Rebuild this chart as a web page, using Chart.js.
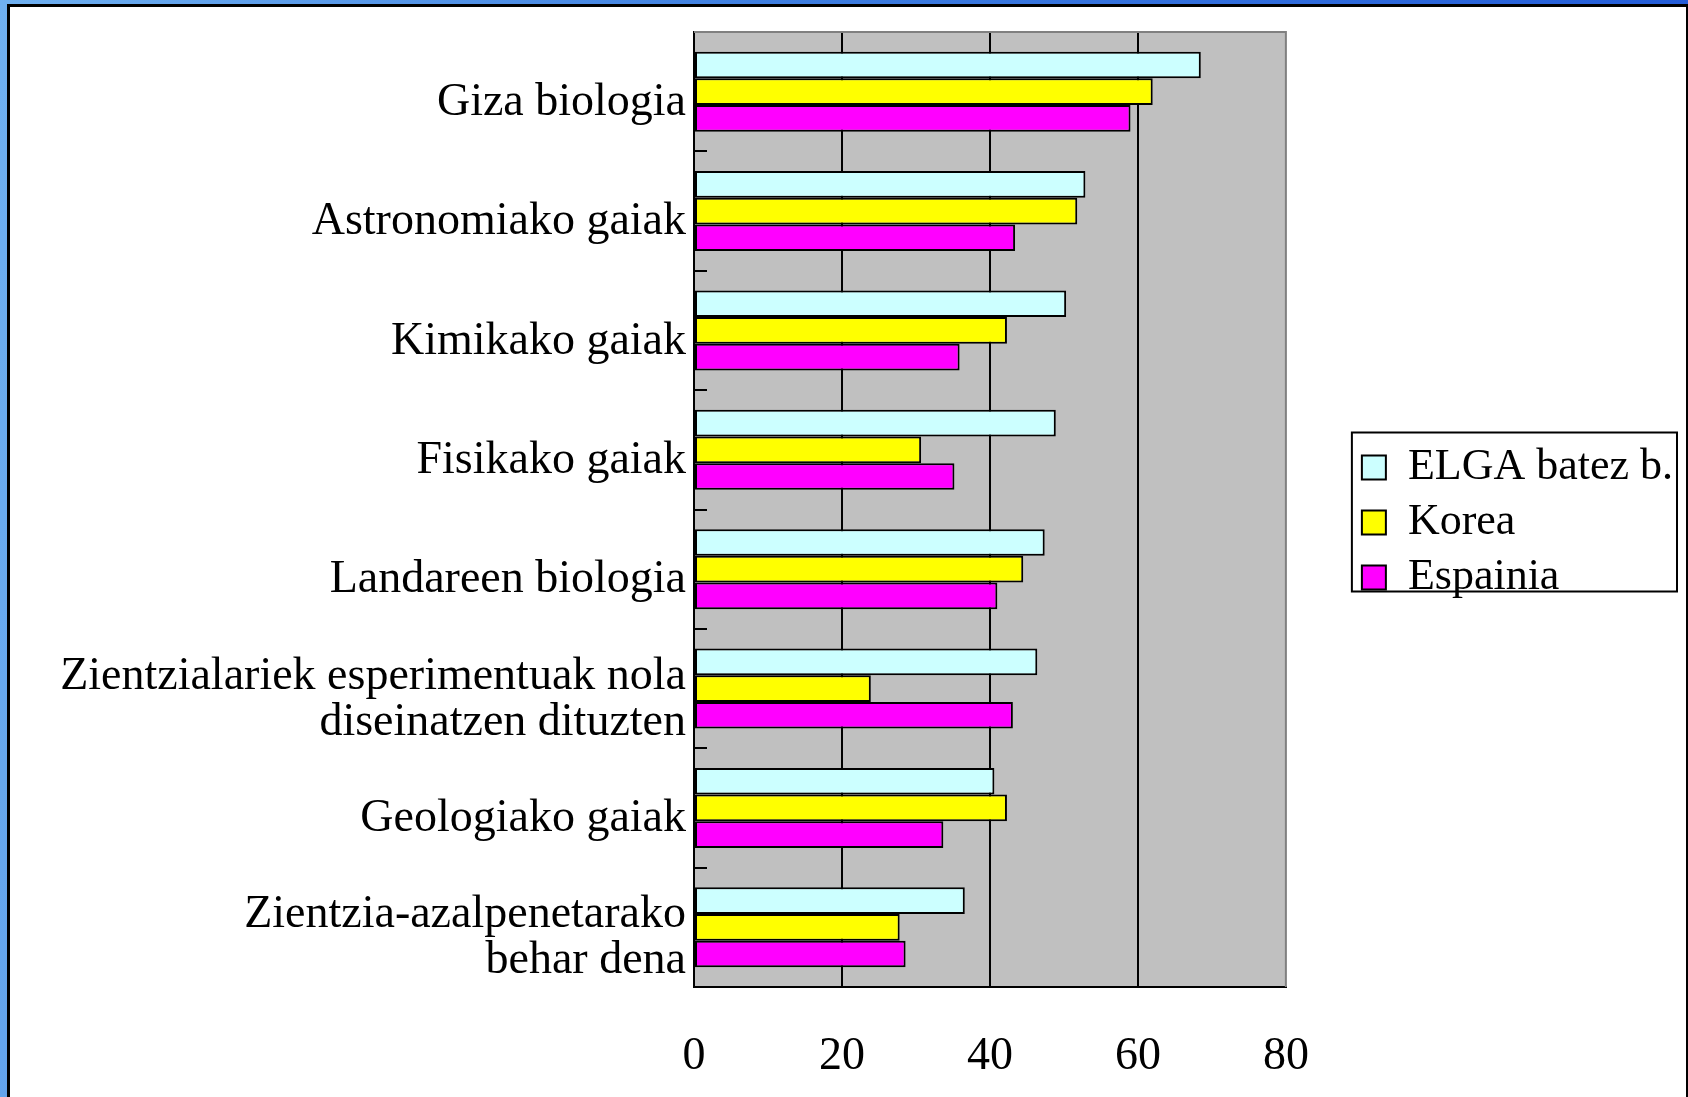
<!DOCTYPE html>
<html>
<head>
<meta charset="utf-8">
<title>Zientzia gaiak</title>
<script src="https://cdn.jsdelivr.net/npm/chart.js@4.4.1/dist/chart.umd.min.js"></script>
<style>
  html, body {
    margin: 0;
    padding: 0;
    width: 1688px;
    height: 1097px;
    overflow: hidden;
    background: linear-gradient(100deg, #6fb0f0 0%, #3f7fe0 40%, #1f56d6 100%);
  }
  #panel {
    position: absolute;
    left: 7px;
    top: 4px;
    width: 1676px;
    height: 1100px;
    background: #ffffff;
    border-left: 3px solid #000;
    border-top: 3px solid #000;
    border-right: 2px solid #000;
  }
  #wrap {
    position: absolute;
    left: 0;
    top: 0;
    width: 1676px;
    height: 1090px;
  }
</style>
</head>
<body>
<div id="panel">
  <div id="wrap"><canvas id="chart"></canvas></div>
</div>
<script>
  "use strict";

  // ============================================
  // DATA
  // ============================================
  var categories = [
    "Giza biologia",
    "Astronomiako gaiak",
    "Kimikako gaiak",
    "Fisikako gaiak",
    "Landareen biologia",
    ["Zientzialariek esperimentuak nola", "diseinatzen dituzten"],
    "Geologiako gaiak",
    ["Zientzia-azalpenetarako", "behar dena"]
  ];
  var seriesNames = ["ELGA batez b.", "Korea", "Espainia"];
  var elga = [68.5, 52.9, 50.3, 48.9, 47.4, 46.4, 40.6, 36.6];
  var korea = [62.0, 51.8, 42.3, 30.7, 44.5, 23.9, 42.3, 27.8];
  var espainia = [59.0, 43.4, 35.9, 35.2, 41.0, 43.1, 33.7, 28.6];
  var xTicks = [0, 20, 40, 60, 80];

  var FONT = "'Liberation Serif', 'DejaVu Serif', serif";
  var FONT_SIZE = 46;
  var LEGEND_FONT_SIZE = 44;
  var LEGEND_GAP = 65;   // space between plot area and legend frame
  var LEGEND_DROP = 13;  // legend sits a little below the plot's middle

  // ============================================
  // PLOT AREA BACKGROUND + BORDERS + LEGEND FRAME
  // ============================================
  var plotFrame = {
    id: "plotFrame",
    afterLayout: function (chart) {
      // push the legend away from the plot, like the original slide
      var lg = chart.legend;
      if (lg) {
        lg.left += LEGEND_GAP;
        lg.right += LEGEND_GAP;
        lg.top += LEGEND_DROP;
        lg.bottom += LEGEND_DROP;
      }
    },
    beforeDraw: function (chart) {
      var a = chart.chartArea;
      var ctx = chart.ctx;
      ctx.save();
      ctx.fillStyle = "#c0c0c0";
      ctx.fillRect(a.left, a.top, a.right - a.left, a.bottom - a.top);
      ctx.restore();
    },
    beforeDatasetsDraw: function (chart) {
      var a = chart.chartArea;
      var ctx = chart.ctx;
      ctx.save();
      ctx.strokeStyle = "#808080";
      ctx.lineWidth = 2;
      ctx.beginPath();
      ctx.moveTo(a.left, a.top);
      ctx.lineTo(a.right, a.top);
      ctx.lineTo(a.right, a.bottom);
      ctx.stroke();
      ctx.restore();
    },
    afterDraw: function (chart) {
      var lg = chart.legend;
      if (!lg || !lg.legendHitBoxes || !lg.legendHitBoxes.length) return;
      var boxes = lg.legendHitBoxes;
      var first = boxes[0];
      var last = boxes[boxes.length - 1];
      var top = first.top - 13;
      var bottom = last.top + last.height - 8;
      var right = Math.min(lg.right - 6, chart.width - 9);
      var ctx = chart.ctx;
      ctx.save();
      ctx.strokeStyle = "#000";
      ctx.lineWidth = 2;
      ctx.strokeRect(lg.left + 1, top, right - lg.left - 1, bottom - top);
      ctx.restore();
    }
  };

  // ============================================
  // CHART
  // ============================================
  function makeSet(label, data, color) {
    return {
      label: label,
      data: data,
      backgroundColor: color,
      borderColor: "#000000",
      borderWidth: 2,
      borderSkipped: false,
      categoryPercentage: 0.67,
      barPercentage: 1.0
    };
  }

  new Chart(document.getElementById("chart"), {
    type: "bar",
    data: {
      labels: categories,
      datasets: [
        makeSet(seriesNames[0], elga, "#ccffff"),
        makeSet(seriesNames[1], korea, "#ffff00"),
        makeSet(seriesNames[2], espainia, "#ff00ff")
      ]
    },
    options: {
      indexAxis: "y",
      responsive: true,
      maintainAspectRatio: false,
      animation: false,
      events: [],
      layout: {
        padding: { left: 0, right: 68, top: 25, bottom: 0 }
      },
      plugins: {
        tooltip: { enabled: false },
        legend: {
          position: "right",
          align: "center",
          fullSize: false,
          labels: {
            color: "#000",
            font: { family: FONT, size: LEGEND_FONT_SIZE },
            boxWidth: 24,
            boxHeight: 24,
            padding: 11
          }
        }
      },
      scales: {
        x: {
          min: xTicks[0],
          max: xTicks[xTicks.length - 1],
          afterBuildTicks: function (s) {
            s.ticks = xTicks.map(function (v) { return { value: v }; });
          },
          afterFit: function (s) { s.height = 110; },
          grid: {
            drawTicks: false,
            lineWidth: 2,
            color: function (c) {
              var v = c.tick && c.tick.value;
              return (v > xTicks[0] && v < xTicks[xTicks.length - 1]) ? "#000" : "rgba(0,0,0,0)";
            }
          },
          border: { display: true, color: "#000", width: 2 },
          ticks: {
            padding: 42,
            color: "#000",
            font: { family: FONT, size: FONT_SIZE }
          }
        },
        y: {
          afterFit: function (s) {
            s.width = 684;
            s.paddingTop = 0;
            s.paddingBottom = 0;
          },
          grid: {
            offset: true,
            drawOnChartArea: false,
            drawTicks: true,
            tickLength: -13,
            color: "#000",
            lineWidth: 2
          },
          border: { display: true, color: "#000", width: 2 },
          ticks: {
            padding: 21,
            labelOffset: 11,
            crossAlign: "near",
            color: "#000",
            font: { family: FONT, size: FONT_SIZE, lineHeight: 1.0 }
          }
        }
      }
    },
    plugins: [plotFrame]
  });
</script>
</body>
</html>
